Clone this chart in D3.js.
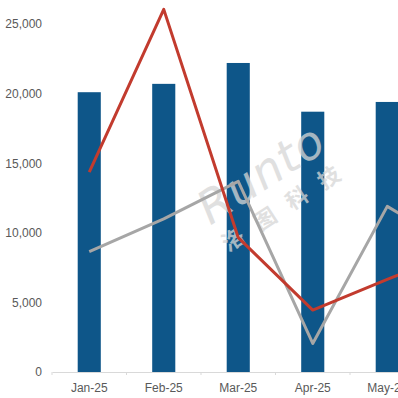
<!DOCTYPE html>
<html>
<head>
<meta charset="utf-8">
<script src="https://cdn.jsdelivr.net/npm/d3@7"></script>
<style>
  html, body { margin: 0; padding: 0; background: #fff; }
  svg { display: block; }
</style>
</head>
<body>
<svg id="chart" width="398" height="398"></svg>
<script>
// ---- data ----
const months = ["Jan-25", "Feb-25", "Mar-25", "Apr-25", "May-25", "Jun-25"];
const barValues = [20100, 20700, 22200, 18700, 19400, 19000];
const redValues = [14350, 26050, 9650, 4450, 6650, 8800];
const grayValues = [8650, 11000, 13700, 2050, 11900, 8700];
const yTicks = [0, 5000, 10000, 15000, 20000, 25000];

// ---- layout ----
const svg = d3.select("#chart");
const x0 = 52, step = 74.5;
const x = d3.scaleBand()
  .domain(months)
  .range([x0, x0 + step * months.length])
  .paddingInner(0.69)
  .paddingOuter(0.345);
const y = d3.scaleLinear().domain([0, 25000]).range([372, 24]);
const cx = m => x(m) + x.bandwidth() / 2;

// y axis labels (no line)
const yAxis = d3.axisLeft(y).tickValues(yTicks).tickFormat(d3.format(",")).tickSize(0).tickPadding(0);
const gy = svg.append("g").attr("transform", "translate(42,0)").call(yAxis);
gy.select(".domain").remove();
gy.selectAll("text")
  .attr("fill", "#595959")
  .style("font-family", "'Liberation Sans', Arial, sans-serif")
  .style("font-size", "12px");

// bars
svg.append("g").selectAll("rect")
  .data(months)
  .join("rect")
  .attr("x", d => x(d))
  .attr("width", x.bandwidth())
  .attr("y", (d, i) => y(barValues[i]))
  .attr("height", (d, i) => y(0) - y(barValues[i]))
  .attr("fill", "#0e5689");

// x axis
const xAxis = d3.axisBottom(x).tickSize(0).tickPadding(11);
const gx = svg.append("g").attr("transform", `translate(0,${y(0)})`).call(xAxis);
gx.select(".domain").attr("stroke", "#d9d9d9").attr("stroke-width", 1);
gx.selectAll("text")
  .attr("fill", "#595959")
  .style("font-family", "'Liberation Sans', Arial, sans-serif")
  .style("font-size", "12px");
// boundary tick marks
svg.append("g").selectAll("line")
  .data(d3.range(months.length + 1))
  .join("line")
  .attr("x1", i => x0 + i * x.step())
  .attr("x2", i => x0 + i * x.step())
  .attr("y1", y(0))
  .attr("y2", y(0) + 3)
  .attr("stroke", "#d9d9d9");

// watermark
const wm = svg.append("g")
  .attr("transform", "translate(274,194) rotate(-33)")
  .attr("opacity", 0.75);
wm.append("text")
  .attr("text-anchor", "middle")
  .attr("x", 0).attr("y", -8)
  .attr("fill", "#d6d6d6")
  .style("font-family", "'DejaVu Sans', sans-serif")
  .style("font-style", "italic")
  .style("font-size", "46px")
  .style("letter-spacing", "1px")
  .text("Runto");
wm.append("text")
  .attr("text-anchor", "middle")
  .attr("x", 6).attr("y", 24)
  .attr("fill", "#d6d6d6")
  .style("font-family", "'Noto Sans CJK SC', sans-serif")
  .style("font-weight", "bold")
  .style("font-size", "22px")
  .style("letter-spacing", "16px")
  .text("洛图科技");

// lines
const line = vals => d3.line()
  .x(d => cx(d))
  .y((d, i) => y(vals[i]))(months);

svg.append("path")
  .attr("d", line(grayValues))
  .attr("fill", "none")
  .attr("stroke", "#a6a6a6")
  .attr("stroke-width", 3)
  .attr("stroke-linejoin", "round");

svg.append("path")
  .attr("d", line(redValues))
  .attr("fill", "none")
  .attr("stroke", "#c23b2e")
  .attr("stroke-width", 3)
  .attr("stroke-linejoin", "round");
</script>
</body>
</html>
